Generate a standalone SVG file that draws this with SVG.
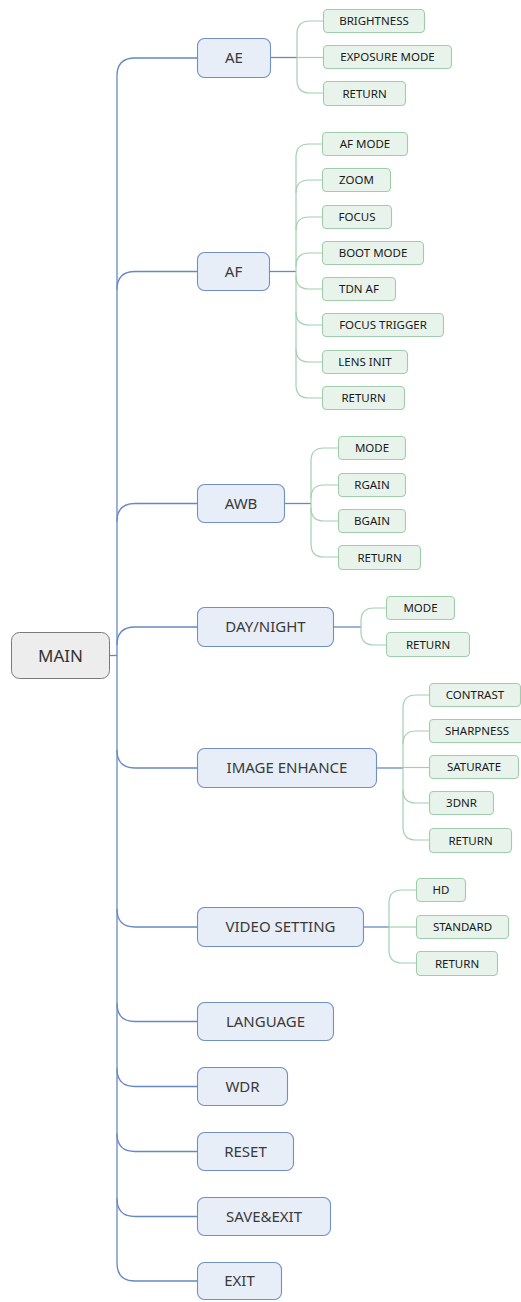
<svg xmlns="http://www.w3.org/2000/svg" width="521" height="1302" viewBox="0 0 521 1302">
<style>
.root rect{fill:#ededed;stroke:#7a7a7a;stroke-width:1}
.root text{font-family:"Noto Sans","Liberation Sans",sans-serif;font-size:17px;fill:#333;text-anchor:middle}
.main rect{fill:#e8eef8;stroke:#6f90c6;stroke-width:1.1}
.main text{font-family:"Noto Sans","Liberation Sans",sans-serif;font-size:15px;fill:#3a3a3a;text-anchor:middle}
.sub rect{fill:#e7f3eb;stroke:#9fcdac;stroke-width:1.1}
.sub text{font-family:"Noto Sans","Liberation Sans",sans-serif;font-size:11.5px;fill:#1a1a1a;text-anchor:middle}
.bl{fill:none;stroke:#6688c4;stroke-width:1.3}
.gr{fill:none;stroke:#a2d0af;stroke-width:1.2}
</style>
<rect width="521" height="1302" fill="#ffffff"/>
<g id="connectors">
<path class="bl" d="M110,655.5 H117"/>
<path class="bl" d="M117,76 V1263"/>
<path class="bl" d="M117,76 Q117,58 135,58 H197"/>
<path class="bl" d="M117,289.5 Q117,271.5 135,271.5 H197"/>
<path class="bl" d="M117,521.5 Q117,503.5 135,503.5 H197"/>
<path class="bl" d="M117,645 Q117,627 135,627 H197"/>
<path class="bl" d="M117,750 Q117,768 135,768 H197"/>
<path class="bl" d="M117,909 Q117,927 135,927 H197"/>
<path class="bl" d="M117,1003.5 Q117,1021.5 135,1021.5 H197"/>
<path class="bl" d="M117,1068.5 Q117,1086.5 135,1086.5 H197"/>
<path class="bl" d="M117,1133.5 Q117,1151.5 135,1151.5 H197"/>
<path class="bl" d="M117,1198.5 Q117,1216.5 135,1216.5 H197"/>
<path class="bl" d="M117,1263 Q117,1281 135,1281 H197"/>
<path class="bl" d="M271,57.5 H297"/>
<path class="gr" d="M297,34 V80"/>
<path class="gr" d="M297,34 Q297,21 310,21 H323"/>
<path class="gr" d="M297,57.5 H323"/>
<path class="gr" d="M297,80 Q297,93 310,93 H323"/>
<path class="bl" d="M270,271.5 H296"/>
<path class="gr" d="M296,157 V385"/>
<path class="gr" d="M296,157 Q296,144 309,144 H322"/>
<path class="gr" d="M296,193 Q296,180 309,180 H322"/>
<path class="gr" d="M296,230 Q296,217 309,217 H322"/>
<path class="gr" d="M296,266 Q296,253 309,253 H322"/>
<path class="gr" d="M296,276 Q296,289 309,289 H322"/>
<path class="gr" d="M296,312 Q296,325 309,325 H322"/>
<path class="gr" d="M296,349 Q296,362 309,362 H322"/>
<path class="gr" d="M296,385 Q296,398 309,398 H322"/>
<path class="bl" d="M285,503.5 H311"/>
<path class="gr" d="M311,461 V544"/>
<path class="gr" d="M311,461 Q311,448 324,448 H338"/>
<path class="gr" d="M311,498 Q311,485 324,485 H338"/>
<path class="gr" d="M311,508 Q311,521 324,521 H338"/>
<path class="gr" d="M311,544 Q311,557 324,557 H338"/>
<path class="bl" d="M334,627 H361"/>
<path class="gr" d="M361,621 V632"/>
<path class="gr" d="M361,621 Q361,608 374,608 H386"/>
<path class="gr" d="M361,632 Q361,645 374,645 H386"/>
<path class="bl" d="M377,768 H403"/>
<path class="gr" d="M403,708 V827"/>
<path class="gr" d="M403,708 Q403,695 416,695 H429"/>
<path class="gr" d="M403,744 Q403,731 416,731 H429"/>
<path class="gr" d="M403,767.5 H429"/>
<path class="gr" d="M403,790 Q403,803 416,803 H429"/>
<path class="gr" d="M403,827 Q403,840 416,840 H429"/>
<path class="bl" d="M364,927 H389"/>
<path class="gr" d="M389,903 V950"/>
<path class="gr" d="M389,903 Q389,890 402,890 H416"/>
<path class="gr" d="M389,927 H416"/>
<path class="gr" d="M389,950 Q389,963 402,963 H416"/>
</g>
<g id="main" class="root"><rect x="11.5" y="632.5" width="98" height="46" rx="8"/><text x="60.5" y="661.5">MAIN</text></g>
<g id="ae" class="main"><rect x="197.5" y="38.5" width="73" height="39" rx="7"/><text x="234" y="63">AE</text></g>
<g id="af" class="main"><rect x="197.5" y="252.5" width="72" height="38" rx="7"/><text x="233.5" y="276.5">AF</text></g>
<g id="awb" class="main"><rect x="197.5" y="484.5" width="87" height="38" rx="7"/><text x="241" y="508.5">AWB</text></g>
<g id="daynight" class="main"><rect x="197.5" y="607.5" width="136" height="39" rx="7"/><text x="265.5" y="632">DAY/NIGHT</text></g>
<g id="imageenhance" class="main"><rect x="197.5" y="748.5" width="179" height="39" rx="7"/><text x="287" y="773">IMAGE ENHANCE</text></g>
<g id="videosetting" class="main"><rect x="197.5" y="907.5" width="166" height="39" rx="7"/><text x="280.5" y="932">VIDEO SETTING</text></g>
<g id="language" class="main"><rect x="197.5" y="1002.5" width="136" height="38" rx="7"/><text x="265.5" y="1026.5">LANGUAGE</text></g>
<g id="wdr" class="main"><rect x="197.5" y="1067.5" width="90" height="38" rx="7"/><text x="242.5" y="1091.5">WDR</text></g>
<g id="reset" class="main"><rect x="197.5" y="1132.5" width="96" height="38" rx="7"/><text x="245.5" y="1156.5">RESET</text></g>
<g id="saveexit" class="main"><rect x="197.5" y="1197.5" width="133" height="38" rx="7"/><text x="264" y="1221.5">SAVE&amp;EXIT</text></g>
<g id="exit" class="main"><rect x="197.5" y="1262.5" width="84" height="37" rx="7"/><text x="239.5" y="1286">EXIT</text></g>
<g id="ae-brightness" class="sub"><rect x="323.5" y="9.5" width="101" height="23" rx="4"/><text x="374" y="25.2">BRIGHTNESS</text></g>
<g id="ae-exposure" class="sub"><rect x="323.5" y="45.5" width="128" height="23" rx="4"/><text x="387.5" y="61.2">EXPOSURE MODE</text></g>
<g id="ae-return" class="sub"><rect x="323.5" y="81.5" width="82" height="24" rx="4"/><text x="364.5" y="97.6">RETURN</text></g>
<g id="af-afmode" class="sub"><rect x="322.5" y="132.5" width="85" height="23" rx="4"/><text x="365" y="148.2">AF MODE</text></g>
<g id="af-zoom" class="sub"><rect x="322.5" y="168.5" width="68" height="23" rx="4"/><text x="356.5" y="184.2">ZOOM</text></g>
<g id="af-focus" class="sub"><rect x="322.5" y="205.5" width="69" height="23" rx="4"/><text x="357" y="221.2">FOCUS</text></g>
<g id="af-bootmode" class="sub"><rect x="322.5" y="241.5" width="101" height="23" rx="4"/><text x="373" y="257.2">BOOT MODE</text></g>
<g id="af-tdnaf" class="sub"><rect x="322.5" y="277.5" width="73" height="23" rx="4"/><text x="359" y="293.2">TDN AF</text></g>
<g id="af-focustrigger" class="sub"><rect x="322.5" y="313.5" width="121" height="23" rx="4"/><text x="383" y="329.2">FOCUS TRIGGER</text></g>
<g id="af-lensinit" class="sub"><rect x="322.5" y="350.5" width="85" height="23" rx="4"/><text x="365" y="366.2">LENS INIT</text></g>
<g id="af-return" class="sub"><rect x="322.5" y="386.5" width="82" height="23" rx="4"/><text x="363.5" y="402.2">RETURN</text></g>
<g id="awb-mode" class="sub"><rect x="338.5" y="436.5" width="67" height="23" rx="4"/><text x="372" y="452.2">MODE</text></g>
<g id="awb-rgain" class="sub"><rect x="338.5" y="473.5" width="67" height="23" rx="4"/><text x="372" y="489.2">RGAIN</text></g>
<g id="awb-bgain" class="sub"><rect x="338.5" y="509.5" width="67" height="23" rx="4"/><text x="372" y="525.2">BGAIN</text></g>
<g id="awb-return" class="sub"><rect x="338.5" y="545.5" width="82" height="24" rx="4"/><text x="379.5" y="561.6">RETURN</text></g>
<g id="dn-mode" class="sub"><rect x="386.5" y="596.5" width="68" height="23" rx="4"/><text x="420.5" y="612.2">MODE</text></g>
<g id="dn-return" class="sub"><rect x="386.5" y="632.5" width="83" height="24" rx="4"/><text x="428" y="648.6">RETURN</text></g>
<g id="ie-contrast" class="sub"><rect x="429.5" y="683.5" width="91" height="23" rx="4"/><text x="475" y="699.2">CONTRAST</text></g>
<g id="ie-sharpness" class="sub"><rect x="429.5" y="719.5" width="96" height="23" rx="4"/><text x="477" y="735.2">SHARPNESS</text></g>
<g id="ie-saturate" class="sub"><rect x="429.5" y="755.5" width="89" height="23" rx="4"/><text x="474" y="771.2">SATURATE</text></g>
<g id="ie-3dnr" class="sub"><rect x="429.5" y="791.5" width="64" height="23" rx="4"/><text x="461.5" y="807.2">3DNR</text></g>
<g id="ie-return" class="sub"><rect x="429.5" y="828.5" width="82" height="24" rx="4"/><text x="470.5" y="844.6">RETURN</text></g>
<g id="vs-hd" class="sub"><rect x="416.5" y="878.5" width="49" height="23" rx="4"/><text x="441" y="894.2">HD</text></g>
<g id="vs-standard" class="sub"><rect x="416.5" y="915.5" width="92" height="23" rx="4"/><text x="462.5" y="931.2">STANDARD</text></g>
<g id="vs-return" class="sub"><rect x="416.5" y="951.5" width="81" height="24" rx="4"/><text x="457" y="967.6">RETURN</text></g>
</svg>
